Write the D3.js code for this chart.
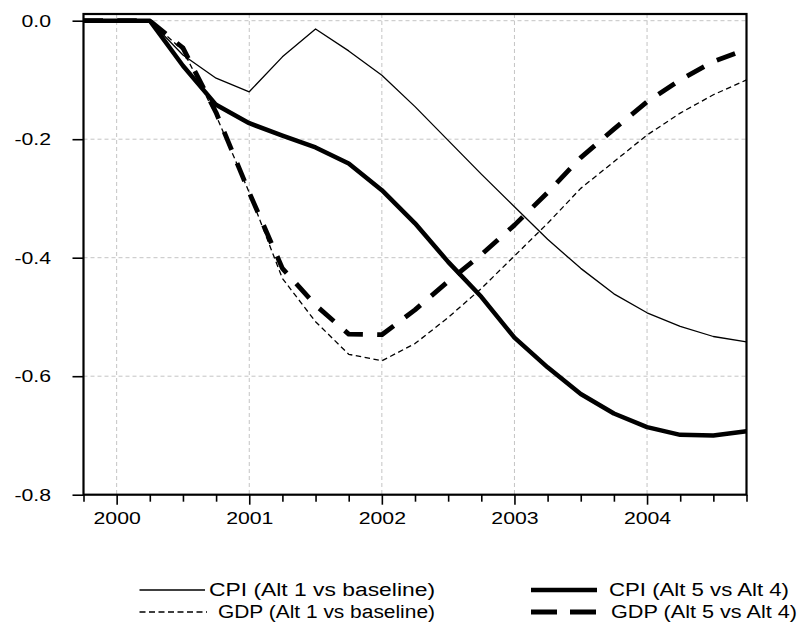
<!DOCTYPE html>
<html>
<head>
<meta charset="utf-8">
<script src="https://cdn.jsdelivr.net/npm/d3@7"></script>
<style>
  body { margin: 0; background: #fff; }
  text { font-family: "Liberation Sans", Arial, sans-serif; fill: #000; }
</style>
</head>
<body>
<div id="chart"></div>
<script>
// quarterly observations, 1999Q4 .. 2004Q4
const periods = ["1999Q4",
  "2000Q1","2000Q2","2000Q3","2000Q4",
  "2001Q1","2001Q2","2001Q3","2001Q4",
  "2002Q1","2002Q2","2002Q3","2002Q4",
  "2003Q1","2003Q2","2003Q3","2003Q4",
  "2004Q1","2004Q2","2004Q3","2004Q4"]
const yTicks = [0, -0.2, -0.4, -0.6, -0.8]

const cpiAlt1 = [0, 0, 0, -0.058, -0.097, -0.120, -0.061, -0.014, -0.051, -0.092, -0.145,
  -0.202, -0.259, -0.314, -0.369, -0.418, -0.461, -0.493, -0.516, -0.533, -0.542]
const gdpAlt1 = [0, 0, 0, -0.050, -0.160, -0.290, -0.435, -0.508, -0.563, -0.574, -0.545,
  -0.501, -0.452, -0.397, -0.342, -0.283, -0.238, -0.193, -0.156, -0.125, -0.100]
const cpiAlt5 = [0, 0, 0, -0.076, -0.142, -0.173, -0.194, -0.214, -0.241, -0.286, -0.342,
  -0.407, -0.466, -0.535, -0.585, -0.630, -0.663, -0.686, -0.699, -0.700, -0.693]
const gdpAlt5 = [0, 0, 0, -0.046, -0.155, -0.290, -0.418, -0.480, -0.529, -0.530, -0.488,
  -0.440, -0.395, -0.345, -0.290, -0.231, -0.183, -0.137, -0.100, -0.069, -0.048]

const seriesLabels = ["CPI (Alt 1 vs baseline)", "CPI (Alt 5 vs Alt 4)",
  "GDP (Alt 1 vs baseline)", "GDP (Alt 5 vs Alt 4)"]

const drawChart = () => {
  const svgWidth = 801, svgHeight = 628
  const svg = d3.select('#chart')
    .append("svg")
    .attr("width", svgWidth)
    .attr("height", svgHeight)

  const left = 83.5, right = 746.5, top = 14, bottom = 494.7
  const sx = 1.25   // the source text is drawn wide

  const x = d3.scalePoint()
    .domain(periods)
    .range([left, right])

  const y = d3.scaleLinear()
    .domain([-0.8, 0.0113])
    .range([bottom, top])

  // grid
  const grid = svg.append("g")
    .attr("stroke", "#c4c4c4")
    .attr("stroke-width", 1)
    .attr("stroke-dasharray", "4,3")
  grid.selectAll("line.h")
    .data(yTicks.filter(d => d > -0.8))
    .enter().append("line")
    .attr("x1", left).attr("x2", right)
    .attr("y1", d => y(d)).attr("y2", d => y(d))
  grid.selectAll("line.v")
    .data(periods.filter(p => p.endsWith("Q1")))
    .enter().append("line")
    .attr("x1", d => x(d)).attr("x2", d => x(d))
    .attr("y1", top).attr("y2", bottom)

  // Y - Axis
  const yAxis = svg.append("g")
    .attr("transform", "translate(" + left + ",0)")
    .call(d3.axisLeft(y).tickValues(yTicks).tickSize(11).tickPadding(0)
      .tickFormat(d => d.toFixed(1)))
  yAxis.select(".domain").remove()
  yAxis.selectAll("line").attr("stroke-width", 1.6)
  yAxis.selectAll("text")
    .attr("font-size", 17)
    .attr("font-family", null)
    .attr("x", -26)
    .attr("dy", "0.34em")
    .attr("transform", `scale(${sx},1)`)

  // X - Axis, quarterly ticks with year labels
  const xAxis = svg.append("g")
    .attr("transform", "translate(0," + bottom + ")")
    .call(d3.axisBottom(x).tickValues(periods).tickSize(10)
      .tickFormat(p => p.endsWith("Q1") ? p.slice(0, 4) : ""))
  xAxis.select(".domain").remove()
  xAxis.selectAll(".tick line")
    .attr("stroke-width", 1.6)
    .attr("y2", p => p.endsWith("Q1") ? 10 : 7)
  xAxis.selectAll("text")
    .attr("font-size", 17)
    .attr("font-family", null)
    .attr("y", 29)
    .attr("dy", 0)
    .attr("transform", `scale(${sx},1)`)

  const line = d3.line()
    .x((d, i) => x(periods[i]))
    .y(d => y(d))

  const series = [
    { values: cpiAlt1, width: 1.3, dash: null },
    { values: cpiAlt5, width: 4.5, dash: null },
    { values: gdpAlt1, width: 1.3, dash: "5.5,3.5" },
    { values: gdpAlt5, width: 4.8, dash: "19.5,14.3" }
  ]

  series.map(s => (
    svg.append("path")
      .datum(s.values)
      .attr("fill", "none")
      .attr("stroke", "#000")
      .attr("stroke-width", s.width)
      .attr("stroke-linejoin", "round")
      .attr("stroke-dasharray", s.dash)
      .attr("d", line)
  ))

  // frame
  svg.append("rect")
    .attr("x", left).attr("y", top)
    .attr("width", right - left).attr("height", bottom - top)
    .attr("fill", "none")
    .attr("stroke", "#000")
    .attr("stroke-width", 2.2)

  // legend (2 x 2), text spans taken from the source
  const legendPos = [
    { x1: 139.5, x2: 205, ty: 590, tx: 209, tw: 226 },
    { x1: 531, x2: 597, ty: 590, tx: 609, tw: 180 },
    { x1: 139.5, x2: 207, ty: 612, tx: 218, tw: 217 },
    { x1: 531, x2: 597, ty: 612, tx: 611, tw: 186 }
  ]
  const legendDash = [null, null, "6,3.5", "26,13"]
  const lg = svg.append("g")
  seriesLabels.map((label, i) => {
    const p = legendPos[i]
    const s = series[i]
    lg.append("line")
      .attr("x1", p.x1).attr("x2", p.x2)
      .attr("y1", p.ty).attr("y2", p.ty)
      .attr("stroke", "#000")
      .attr("stroke-width", s.width)
      .attr("stroke-dasharray", legendDash[i])
    lg.append("text")
      .attr("x", p.tx)
      .attr("y", p.ty)
      .attr("font-size", 18)
      .attr("dy", "0.36em")
      .attr("textLength", p.tw)
      .attr("lengthAdjust", "spacingAndGlyphs")
      .text(label)
  })
}

drawChart()
</script>
</body>
</html>
